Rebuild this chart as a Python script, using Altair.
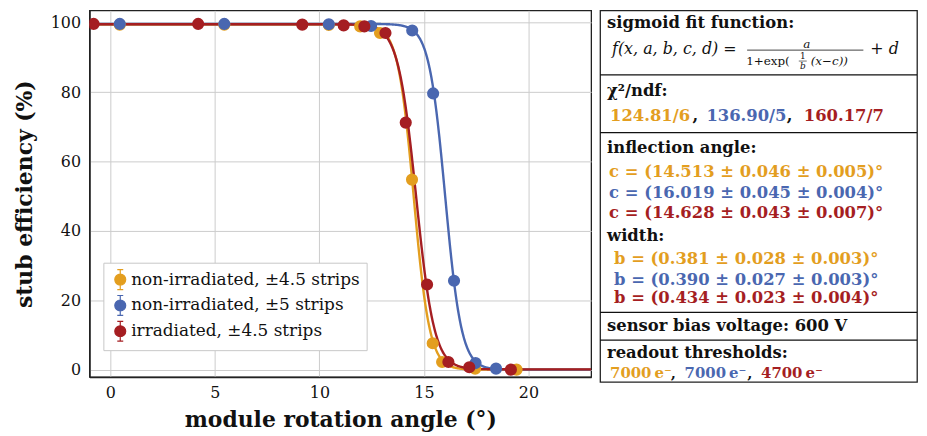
import altair as alt
import pandas as pd

# ---------------- data ----------------
series = ["non-irradiated, ±4.5 strips", "non-irradiated, ±5 strips", "irradiated, ±4.5 strips"]
colors = ["#E39E1F", "#4A67B0", "#A51E22"]

yel_x = [0.45, 5.45, 10.45, 11.95, 12.9, 14.43, 15.42, 15.87, 17.45, 19.43]
yel_y = [99.4, 99.4, 99.3, 98.9, 97.0, 54.8, 7.7, 2.3, 0.4, 0.1]
blu_x = [0.45, 5.45, 10.45, 12.47, 14.44, 15.44, 16.44, 17.47, 18.45]
blu_y = [99.6, 99.6, 99.5, 99.0, 97.7, 79.6, 25.7, 2.0, 0.4]
red_x = [-0.8, 4.2, 9.18, 11.16, 12.15, 13.16, 14.13, 15.15, 16.17, 17.17, 19.16]
red_y = [99.6, 99.6, 99.4, 99.2, 98.9, 97.0, 71.2, 24.6, 2.3, 0.8, 0.1]

fit_a = [99.3, 99.5, 99.3]
fit_b = [0.381, 0.390, 0.434]
fit_c = [14.513, 16.019, 14.628]
fit_d = [0.1, 0.1, 0.2]

x_ticks = [0, 5, 10, 15, 20]
y_ticks = [0, 20, 40, 60, 80, 100]

FONT = "DejaVu Serif"

pts = pd.concat([
    pd.DataFrame({"angle": yel_x, "eff": yel_y, "series": series[0]}),
    pd.DataFrame({"angle": blu_x, "eff": blu_y, "series": series[1]}),
    pd.DataFrame({"angle": red_x, "eff": red_y, "series": series[2]}),
], ignore_index=True)

fits = pd.DataFrame({"series": series, "a": fit_a, "b": fit_b, "c": fit_c, "d": fit_d})

xscale = alt.Scale(domain=[-1, 23], nice=False, zero=False)
yscale = alt.Scale(domain=[-2, 103.5], nice=False, zero=False)

xaxis = alt.Axis(values=x_ticks, title="module rotation angle (°)", ticks=False,
                 labelPadding=8, titlePadding=9, format="d")
yaxis = alt.Axis(values=y_ticks, title="stub efficiency (%)", ticks=False,
                 labelPadding=9, titlePadding=14, format="d")

line_layers = []
for s, col in zip(series, colors):
    line_layers.append(
        alt.Chart(fits)
        .transform_filter(alt.datum.series == s)
        .transform_calculate(xs="sequence(-1, 23.02, 0.02)")
        .transform_flatten(["xs"])
        .transform_calculate(ys="datum.a/(1+exp((datum.xs-datum.c)/datum.b))+datum.d")
        .mark_line(strokeWidth=2.4, clip=True, color=col)
        .encode(
            x=alt.X("xs:Q", scale=xscale, axis=xaxis),
            y=alt.Y("ys:Q", scale=yscale, axis=yaxis),
            detail="series:N",
        )
    )

legend_path = ("M-0.55,0 A0.55,0.55 0 1,1 0.55,0 A0.55,0.55 0 1,1 -0.55,0 Z "
               "M0,-1 L0,1 M-0.3,-1 L0.3,-1 M-0.3,1 L0.3,1")

leg = alt.Legend(
    title=None, orient="none", legendX=14, legendY=254,
    fillColor="white", strokeColor="#c8c8c8", padding=6,
    symbolType=legend_path, symbolSize=400, symbolStrokeWidth=1.2,
    labelFont=FONT, labelFontSize=17, labelColor="#111",
    rowPadding=0, labelOffset=0, labelLimit=400,
)

cscale = alt.Scale(domain=series, range=colors)

points = alt.Chart(pts).mark_point(filled=True, size=105, opacity=1, clip=True).encode(
    x=alt.X("angle:Q", scale=xscale, axis=xaxis),
    y=alt.Y("eff:Q", scale=yscale, axis=yaxis),
    color=alt.Color("series:N", scale=cscale, legend=leg, sort=series),
    stroke=alt.Stroke("series:N", scale=cscale, legend=leg, sort=series),
)

plot = alt.layer(*line_layers, points).properties(width=505, height=369)

# ---------------- right text panel ----------------
head_text = ["sigmoid fit function:", "χ²/ndf:", "inflection angle:", "width:",
             "sensor bias voltage: 600 V", "readout thresholds:"]
head_y = [13, 81, 139, 227, 318, 345]

chi_text = ["124.81/6", ",", "136.90/5", ",", "160.17/7"]
chi_col = [colors[0], "#111", colors[1], "#111", colors[2]]
chi_x = [10, 93, 107, 188, 205]

c_text = ["c = (14.513 ± 0.046 ± 0.005)°", "c = (16.019 ± 0.045 ± 0.004)°",
          "c = (14.628 ± 0.043 ± 0.007)°"]
b_text = ["b = (0.381 ± 0.028 ± 0.003)°", "b = (0.390 ± 0.027 ± 0.003)°",
          "b = (0.434 ± 0.023 ± 0.004)°"]
c_y = [163, 184, 204]
b_y = [250, 271, 290]

thr_text = ["7000\u2009e⁻", ",", "7000\u2009e⁻", ",", "4700\u2009e⁻"]
thr_col = [colors[0], "#111", colors[1], "#111", colors[2]]
thr_x = [10, 71, 85, 148, 162]

rows = []
for t, y in zip(head_text, head_y):
    rows.append(dict(text=t, px=7, py=y, col="#111", fs=16.5))
for t, c, x in zip(chi_text, chi_col, chi_x):
    rows.append(dict(text=t, px=x, py=106, col=c, fs=16.5))
for t, y, c in zip(c_text, c_y, colors):
    rows.append(dict(text=t, px=9, py=y, col=c, fs=16.5))
for t, y, c in zip(b_text, b_y, colors):
    rows.append(dict(text=t, px=14, py=y, col=c, fs=16.5))
for t, c, x in zip(thr_text, thr_col, thr_x):
    rows.append(dict(text=t, px=x, py=365, col=c, fs=15))
bold_df = pd.DataFrame(rows)

math_rows = [
    dict(text="f(x, a, b, c, d) =", px=12, py=39, fs=16, st="italic", al="left"),
    dict(text="a", px=208, py=34, fs=12, st="italic", al="center"),
    dict(text="1+exp(", px=147, py=51, fs=12, st="normal", al="left"),
    dict(text="1", px=204, py=46, fs=9, st="normal", al="center"),
    dict(text="b", px=204, py=56, fs=9, st="italic", al="center"),
    dict(text="(x−c))", px=212, py=51, fs=12, st="italic", al="left"),
    dict(text="+ d", px=272, py=39, fs=16, st="italic", al="left"),
]
math_df = pd.DataFrame(math_rows)

sep_y = [65, 123, 304, 332]
rule_rows = [dict(x1=0, x2=319, y=y, w=1.3) for y in sep_y]
rule_rows += [dict(x1=148, x2=265, y=40, w=0.8), dict(x1=200, x2=208, y=51, w=0.6)]
rule_df = pd.DataFrame(rule_rows)

bold_layer = alt.Chart(bold_df).mark_text(
    align="left", baseline="middle", font=FONT, fontWeight="bold"
).encode(
    x=alt.X("px:Q", scale=None, axis=None),
    y=alt.Y("py:Q", scale=None, axis=None),
    text="text:N",
    color=alt.Color("col:N", scale=None),
    size=alt.Size("fs:Q", scale=None),
)

math_layers = []
for al in ["left", "center"]:
    for st in ["italic", "normal"]:
        math_layers.append(
            alt.Chart(math_df)
            .transform_filter((alt.datum.al == al) & (alt.datum.st == st))
            .mark_text(align=al, baseline="middle", font=FONT, fontStyle=st, color="#111")
            .encode(
                x=alt.X("px:Q", scale=None, axis=None),
                y=alt.Y("py:Q", scale=None, axis=None),
                text="text:N",
                size=alt.Size("fs:Q", scale=None),
            )
        )

rules = alt.Chart(rule_df).mark_rule(color="#111").encode(
    x=alt.X("x1:Q", scale=None, axis=None),
    x2="x2:Q",
    y=alt.Y("y:Q", scale=None, axis=None),
    strokeWidth=alt.StrokeWidth("w:Q", scale=None),
)

panel = alt.layer(rules, bold_layer, *math_layers).properties(width=319, height=374)

chart = (
    alt.hconcat(plot, panel, spacing=6)
    .properties(padding={"left": 4, "top": 0, "right": 0, "bottom": 0}, background="white")
    .configure_view(stroke="#222", strokeWidth=1.3)
    .configure_axis(
        labelFont=FONT, labelFontSize=16, labelColor="#111",
        titleFont=FONT, titleFontSize=22, titleFontWeight="bold", titleColor="#111",
        gridColor="#cccccc", gridWidth=1, domainColor="#222", domainWidth=1.5,
    )
)

chart.save("out.html", embed_options={"renderer": "svg", "actions": False})
